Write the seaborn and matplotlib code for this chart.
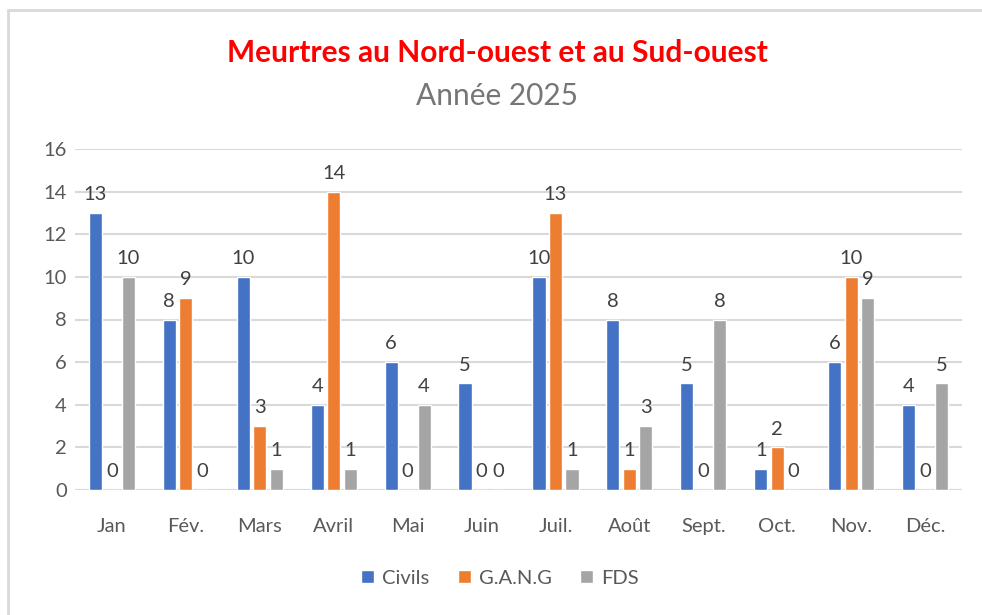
import pandas as pd
import seaborn as sns
import matplotlib.pyplot as plt
from matplotlib.patches import Rectangle

mois = ['Jan', 'Fév.', 'Mars', 'Avril', 'Mai', 'Juin', 'Juil.', 'Août',
        'Sept.', 'Oct.', 'Nov.', 'Déc.']
civils = [13, 8, 10, 4, 6, 5, 10, 8, 5, 1, 6, 4]
gang = [0, 9, 3, 14, 0, 0, 13, 1, 0, 2, 10, 0]
fds = [10, 0, 1, 1, 4, 0, 1, 3, 8, 0, 9, 5]
series = ['Civils', 'G.A.N.G', 'FDS']
couleurs = ['#4472C4', '#ED7D31', '#A5A5A5']

# long format for seaborn
df = pd.DataFrame({
    'mois': mois * 3,
    'valeur': civils + gang + fds,
    'serie': [s for s in series for _ in mois],
})

sns.set_style('white')
plt.rcParams['font.family'] = ['Lato', 'DejaVu Sans']

W, H = 982, 615
fig = plt.figure(figsize=(W / 100, H / 100), dpi=100)

# light frame around the chart
fig.patches.append(Rectangle((8 / W, -0.05), 1.1, (605 + 0.05 * H) / H,
                             transform=fig.transFigure, fill=False,
                             edgecolor='#D9D9D9', lw=2))

ax = fig.add_axes([75 / W, (H - 490) / H, 887 / W, 341 / H])
sns.barplot(data=df, x='mois', y='valeur', hue='serie', palette=couleurs,
            saturation=1, width=0.67, gap=0.2, ax=ax, legend=True, errorbar=None)

ax.set_ylim(0, 16)
ax.set_yticks(range(0, 17, 2))
ax.set_xlim(-0.5, len(mois) - 0.5)
ax.yaxis.grid(True, color='#D9D9D9', lw=1.5)
ax.set_axisbelow(True)
for s in ax.spines.values():
    s.set_visible(False)
ax.axhline(0, color='#D9D9D9', lw=1.5, zorder=0)
ax.set_xlabel('')
ax.set_ylabel('')
ax.tick_params(axis='both', length=0, labelsize=14.5, colors='#595959')
ax.tick_params(axis='x', pad=20)
ax.tick_params(axis='y', pad=6)

for cont in ax.containers:
    ax.bar_label(cont, fmt='%d', padding=7, fontsize=14.5, color='#404040')

handles, labels = ax.get_legend_handles_labels()
ax.get_legend().remove()
fig.legend(handles, labels, loc='center', bbox_to_anchor=(500 / W, (H - 578) / H),
           ncol=3, frameon=False, fontsize=14.5, labelcolor='#595959',
           handlelength=0.65, handleheight=0.65, handletextpad=0.4, columnspacing=1.4)

fig.text(497 / W, (H - 53) / H, 'Meurtres au Nord-ouest et au Sud-ouest',
         ha='center', va='center', fontsize=21.5, fontweight='bold', color='#FF0000')
fig.text(497 / W, (H - 96) / H, 'Année 2025', ha='center', va='center',
         fontsize=21.5, color='#767676')

fig.savefig('out.png', dpi=100)
